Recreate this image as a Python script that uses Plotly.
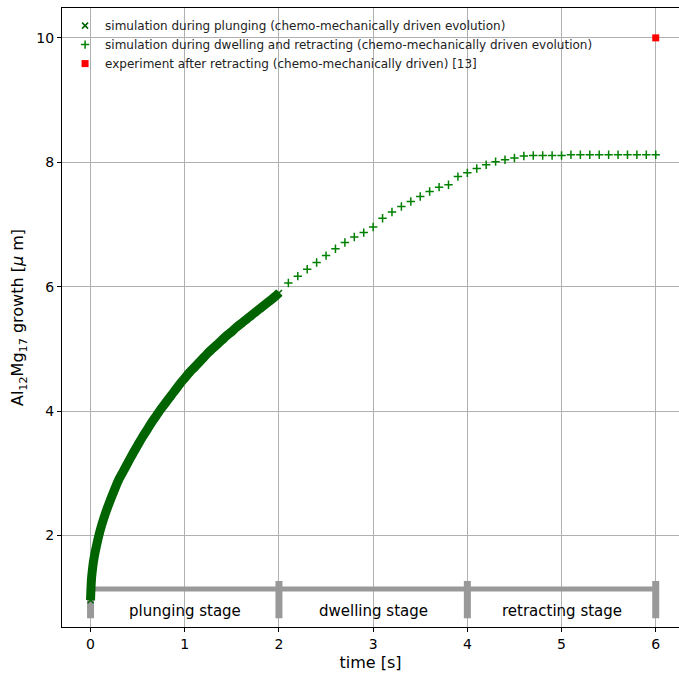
import plotly.graph_objects as go

# plunging stage (simulation)
t_plunge = [0.0, 0.01, 0.02, 0.03, 0.05, 0.10, 0.15, 0.20, 0.25, 0.30, 0.35, 0.40, 0.45,
            0.50, 0.55, 0.60, 0.65, 0.70, 0.75, 0.80, 0.85, 0.90, 0.95, 1.00,
            1.05, 1.10, 1.15, 1.20, 1.25, 1.30, 1.35, 1.40, 1.45, 1.50,
            1.55, 1.60, 1.65, 1.70, 1.75, 1.80, 1.85, 1.90, 1.95, 2.00]
y_plunge = [0.96, 1.30, 1.45, 1.57, 1.74, 2.07, 2.32, 2.53, 2.72, 2.90, 3.04, 3.18, 3.32,
            3.45, 3.58, 3.70, 3.82, 3.93, 4.04, 4.14, 4.24, 4.34, 4.44, 4.53,
            4.62, 4.70, 4.78, 4.86, 4.94, 5.01, 5.08, 5.15, 5.22, 5.28,
            5.35, 5.41, 5.47, 5.53, 5.59, 5.65, 5.71, 5.77, 5.83, 5.90]

# dwelling and retracting (simulation)
t_dwell = [2.1, 2.2, 2.3, 2.4, 2.5, 2.6, 2.7, 2.8, 2.9, 3.0,
           3.1, 3.2, 3.3, 3.4, 3.5, 3.6, 3.7, 3.8, 3.9, 4.0,
           4.1, 4.2, 4.3, 4.4, 4.5, 4.6, 4.7, 4.8, 4.9, 5.0,
           5.1, 5.2, 5.3, 5.4, 5.5, 5.6, 5.7, 5.8, 5.9, 6.0]
y_dwell = [6.06, 6.17, 6.28, 6.39, 6.50, 6.61, 6.71, 6.80, 6.87, 6.96,
           7.10, 7.20, 7.29, 7.37, 7.45, 7.53, 7.60, 7.64, 7.77, 7.83,
           7.90, 7.96, 8.01, 8.04, 8.07, 8.10, 8.11, 8.11, 8.11, 8.11,
           8.12, 8.12, 8.12, 8.12, 8.12, 8.12, 8.12, 8.12, 8.12, 8.12]

# experiment
t_exp = [6.0]
y_exp = [10.0]

# process stages
stage_bounds = [0, 2, 4, 6]
stage_labels = ["plunging stage", "dwelling stage", "retracting stage"]
bar_level = 1.14
bar_tick_low = 0.67
bar_tick_high = 1.27
label_level = 0.78

GREEN = "#008000"
DARK_GREEN = "#006400"
GRAY = "#999999"
FONT = "DejaVu Sans"

fig = go.Figure()

# stage bar
fig.add_trace(go.Scatter(x=[stage_bounds[0], stage_bounds[-1]], y=[bar_level, bar_level],
                         mode="lines", line=dict(color=GRAY, width=5),
                         showlegend=False, hoverinfo="skip"))
for b in stage_bounds:
    fig.add_trace(go.Scatter(x=[b, b], y=[bar_tick_low, bar_tick_high], mode="lines",
                             line=dict(color=GRAY, width=7), showlegend=False, hoverinfo="skip"))
for i, lab in enumerate(stage_labels):
    fig.add_annotation(x=(stage_bounds[i] + stage_bounds[i + 1]) / 2, y=label_level,
                       text=lab, showarrow=False, font=dict(family=FONT, size=15, color="black"))

# filler line for dense plunging markers
fig.add_trace(go.Scatter(x=t_plunge, y=y_plunge, mode="lines",
                         line=dict(color=DARK_GREEN, width=9, shape="spline"),
                         showlegend=False, hoverinfo="skip"))
fig.add_trace(go.Scatter(x=t_plunge, y=y_plunge, mode="markers",
                         name="simulation during plunging (chemo-mechanically driven evolution)",
                         marker=dict(symbol="x-thin", size=6, color=DARK_GREEN,
                                     line=dict(color=DARK_GREEN, width=1.5))))
fig.add_trace(go.Scatter(x=t_dwell, y=y_dwell, mode="markers",
                         name="simulation during dwelling and retracting (chemo-mechanically driven evolution)",
                         marker=dict(symbol="cross-thin", size=6, color=GREEN,
                                     line=dict(color=GREEN, width=1.5))))
fig.add_trace(go.Scatter(x=t_exp, y=y_exp, mode="markers",
                         name="experiment after retracting (chemo-mechanically driven) [13]",
                         marker=dict(symbol="square", size=7, color="red")))

fig.update_layout(
    width=679, height=673,
    margin=dict(l=62, r=0, t=8, b=46),
    plot_bgcolor="white", paper_bgcolor="white",
    font=dict(family=FONT, size=14, color="black"),
    legend=dict(x=0.005, y=0.995, xanchor="left", yanchor="top",
                bgcolor="rgba(0,0,0,0)", font=dict(family=FONT, size=12, color="#222"),
                itemwidth=30, tracegroupgap=0),
    xaxis=dict(range=[-0.303, 6.247], tickvals=[0, 1, 2, 3, 4, 5, 6],
               showgrid=True, gridcolor="#b0b0b0", gridwidth=1,
               showline=True, linecolor="black", linewidth=1, mirror=True,
               ticks="outside", ticklen=4, tickcolor="black", zeroline=False,
               title=dict(text="time [s]", font=dict(size=16), standoff=6),
               tickfont=dict(size=14)),
    yaxis=dict(range=[0.53, 10.48], tickvals=[2, 4, 6, 8, 10],
               showgrid=True, gridcolor="#b0b0b0", gridwidth=1,
               showline=True, linecolor="black", linewidth=1,
               ticks="outside", ticklen=4, tickcolor="black", zeroline=False,
               title=dict(text="Al<sub>12</sub>Mg<sub>17</sub> growth [<i>μ</i> m]",
                          font=dict(size=16), standoff=8),
               tickfont=dict(size=14)),
)

fig.write_html("out.html")
